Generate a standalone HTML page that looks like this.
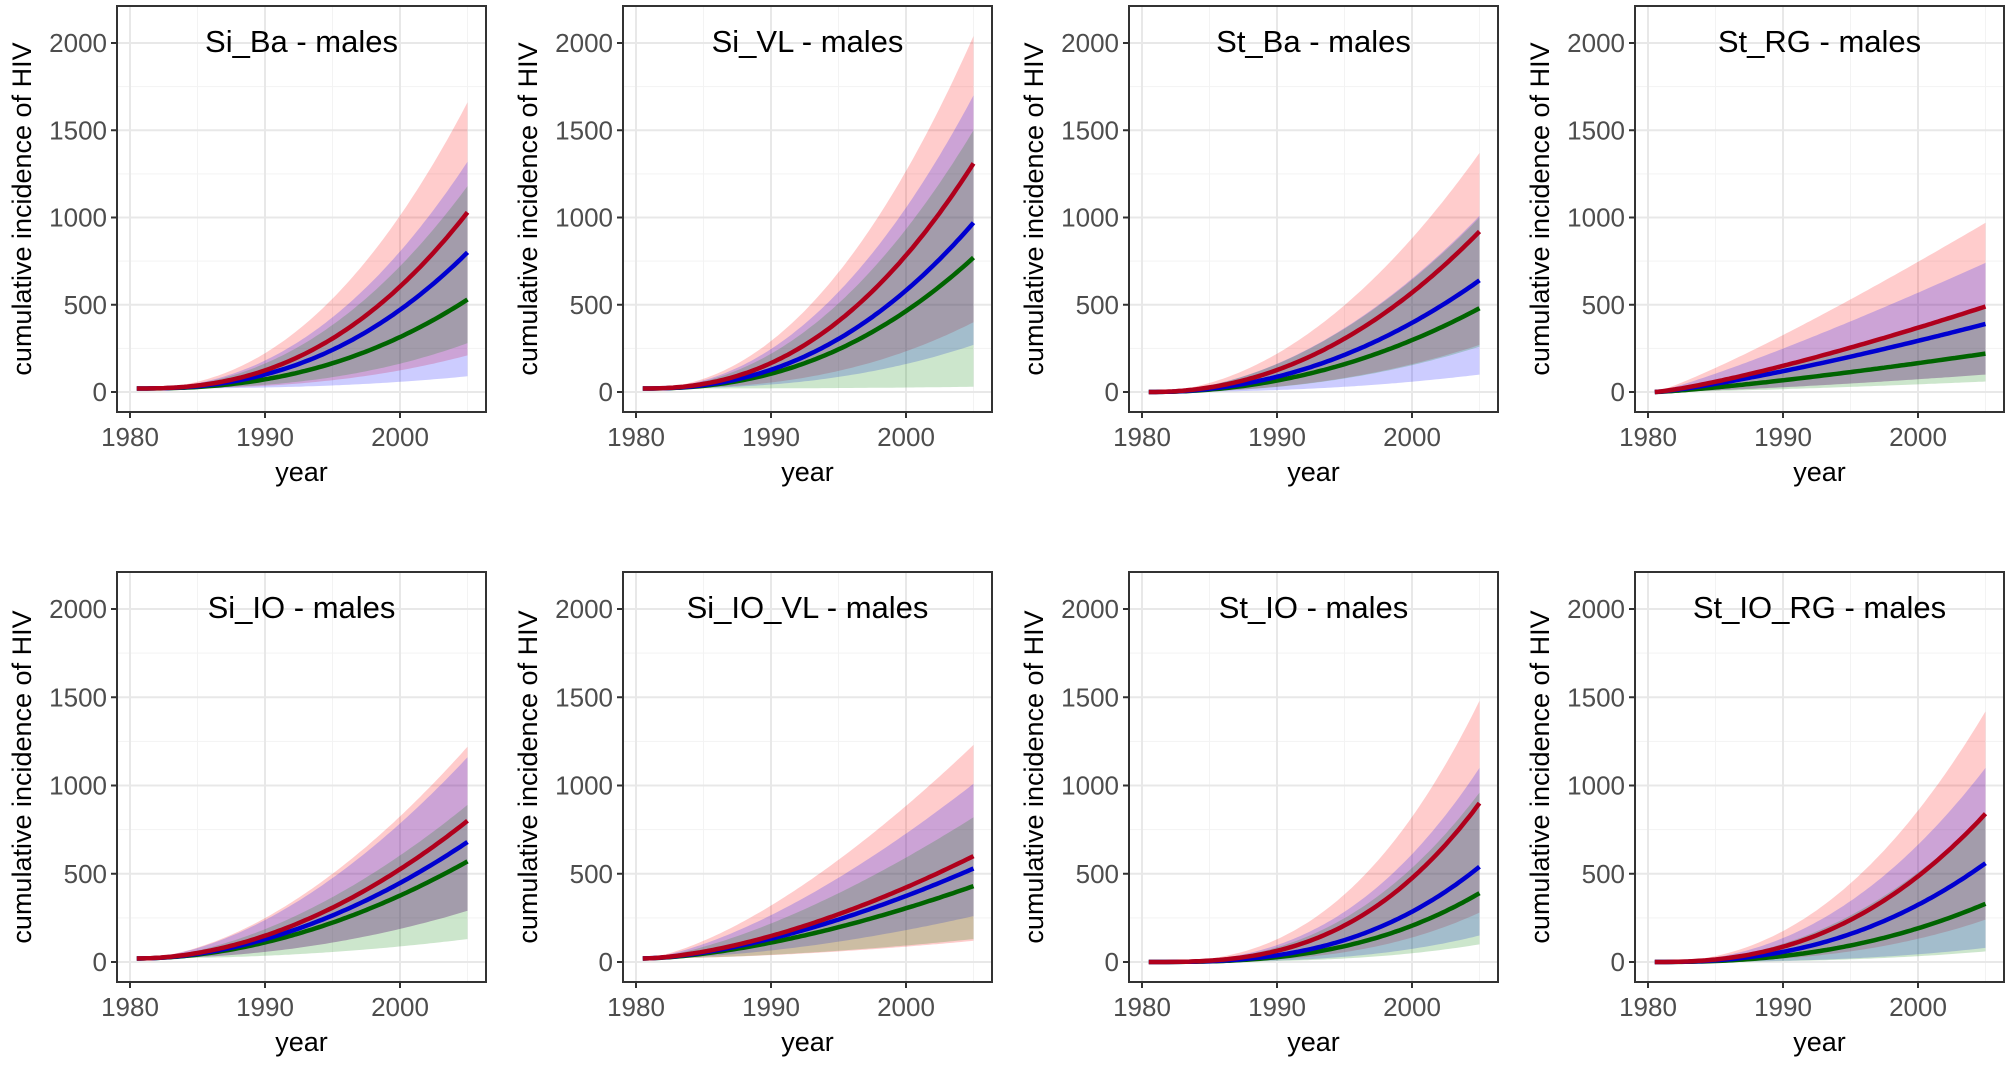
<!DOCTYPE html>
<html><head><meta charset="utf-8"><style>
html,body{margin:0;padding:0;background:#fff;}
svg{display:block;font-family:"Liberation Sans",sans-serif;}
</style></head><body>
<svg id="s" width="2007" height="1074" xmlns="http://www.w3.org/2000/svg"></svg>
<script>
const S=document.getElementById('s');
let h='';
const panels=[
 ["Si_Ba - males",20,2.4,[1030,1660,210],[800,1320,90],[530,1180,280]],
 ["Si_VL - males",20,2.3,[1310,2040,400],[970,1700,270],[770,1500,30]],
 ["St_Ba - males",0,2.1,[920,1370,270],[640,1010,100],[480,1000,260]],
 ["St_RG - males",0,1.25,[490,970,100],[390,740,100],[220,480,60]],
 ["Si_IO - males",20,1.9,[800,1220,290],[680,1160,290],[570,890,130]],
 ["Si_IO_VL - males",20,1.6,[600,1230,120],[530,1010,260],[430,820,130]],
 ["St_IO - males",0,2.8,[900,1480,280],[540,1100,150],[390,960,100]],
 ["St_IO_RG - males",0,2.4,[840,1420,240],[560,1100,80],[330,840,60]]
];
const cols=[[255,0,0],[0,0,255],[0,128,0]];
const lc=["#b0001c","#0000d0","#006400"];
panels.forEach((p,i)=>{
 const c=i%4,r=Math.floor(i/4);
 const L=117+c*506,R=L+369,T=r?572:6,B=r?982:412;
 const y0=r?962:392, y2=r?609:43;
 const ky=(y0-y2)/2000;
 const X=t=>L+13+(t-1980)*13.5, Y=v=>y0-v*ky;
 for(let t=1985;t<=2005;t+=10)h+=`<line x1="${X(t)}" x2="${X(t)}" y1="${T}" y2="${B}" stroke="#f3f3f3" stroke-width="1"/>`;
 for(let v=250;v<=2000;v+=500)h+=`<line x1="${L}" x2="${R}" y1="${Y(v)}" y2="${Y(v)}" stroke="#f3f3f3" stroke-width="1"/>`;
 for(let t=1980;t<=2000;t+=10)h+=`<line x1="${X(t)}" x2="${X(t)}" y1="${T}" y2="${B}" stroke="#e8e8e8" stroke-width="2"/>`;
 for(let v=0;v<=2000;v+=500)h+=`<line x1="${L}" x2="${R}" y1="${Y(v)}" y2="${Y(v)}" stroke="#e8e8e8" stroke-width="2"/>`;
 const s=p[1],pw=p[2];
 const f=(t,e,q)=>s+(e-s)*Math.pow(Math.max(0,(t-1980.5)/24.5),q);
 const ts=[];for(let t=1980.5;t<=2005.001;t+=0.25)ts.push(t);
 [3,4,5].forEach((k,j)=>{
  const d=p[k];
  let up=ts.map(t=>X(t).toFixed(1)+','+Y(f(t,d[1],pw*0.92)).toFixed(1));
  let lo=ts.slice().reverse().map(t=>X(t).toFixed(1)+','+Y(f(t,d[2],pw*1.1)).toFixed(1));
  h+=`<polygon points="${up.join(' ')} ${lo.join(' ')}" fill="rgba(${cols[j]},0.2)"/>`;
 });
 [5,4,3].forEach(k=>{
  const d=p[k],j=k-3;
  const pts=ts.map(t=>X(t).toFixed(1)+','+Y(f(t,d[0],pw)).toFixed(1));
  h+=`<polyline points="${pts.join(' ')}" fill="none" stroke="${lc[j]}" stroke-width="4.5"/>`;
 });
 h+=`<rect x="${L}" y="${T}" width="${R-L}" height="${B-T}" fill="none" stroke="#333" stroke-width="2"/>`;
 for(let v=0;v<=2000;v+=500){h+=`<line x1="${L-6}" x2="${L}" y1="${Y(v)}" y2="${Y(v)}" stroke="#333" stroke-width="2"/>`;
  h+=`<text x="${L-10}" y="${Y(v)+9}" text-anchor="end" font-size="26" fill="#4d4d4d">${v}</text>`;}
 for(let t=1980;t<=2000;t+=10){h+=`<line x1="${X(t)}" x2="${X(t)}" y1="${B}" y2="${B+6}" stroke="#333" stroke-width="2"/>`;
  h+=`<text x="${X(t)}" y="${B+34}" text-anchor="middle" font-size="26" fill="#4d4d4d">${t}</text>`;}
 h+=`<text x="${(L+R)/2}" y="${T+46}" text-anchor="middle" font-size="31">${p[0]}</text>`;
 h+=`<text x="${(L+R)/2}" y="${B+69}" text-anchor="middle" font-size="27">year</text>`;
 const cy=(T+B)/2;
 h+=`<text transform="translate(${L-86},${cy}) rotate(-90)" text-anchor="middle" font-size="27">cumulative incidence of HIV</text>`;
});
S.innerHTML=h;
</script>
</body></html>
